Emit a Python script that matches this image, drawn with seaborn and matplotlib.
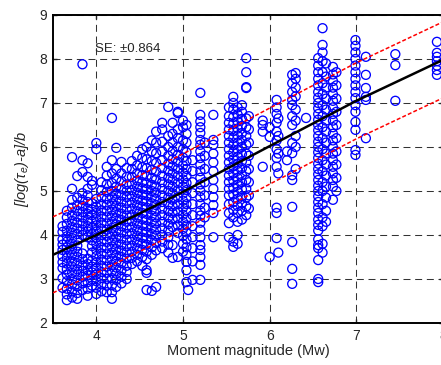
import pandas as pd
import matplotlib
matplotlib.use('Agg')
import matplotlib.pyplot as plt
import seaborn as sns

# Columnas de eventos: magnitud (Mw) y valores normalizados
mw_cols = [3.61, 3.66, 3.72, 3.78, 3.84, 3.90, 3.95, 4.00, 4.06, 4.12, 4.18, 4.23,
           4.29, 4.35, 4.41, 4.47, 4.53, 4.58, 4.64, 4.69, 4.76, 4.83, 4.88, 4.94,
           5.00, 5.04, 5.06, 5.11, 5.20, 5.25, 5.35, 5.53, 5.58, 5.63, 5.68, 5.73,
           5.76, 5.92, 6.00, 6.08, 6.10, 6.20, 6.26, 6.30, 6.42, 6.56, 6.61, 6.65,
           6.73, 6.77, 6.99, 7.11, 7.45, 7.93]

y_361 = [2.80, 3.02, 3.25, 3.38, 3.52, 3.66, 3.78, 3.90, 4.07, 4.20]
y_366 = [2.52, 2.65, 2.78, 2.95, 3.10, 3.22, 3.35, 3.48, 3.60, 3.72, 3.85, 3.97, 4.10, 4.25, 4.40, 4.55]
y_372 = [2.58, 2.72, 2.88, 3.00, 3.14, 3.28, 3.40, 3.55, 3.68, 3.80, 3.93, 4.05, 4.18, 4.32, 4.45, 4.62, 4.80, 5.05, 5.77]
y_378 = [2.55, 2.68, 2.83, 2.97, 3.10, 3.22, 3.36, 3.50, 3.62, 3.76, 3.88, 4.02, 4.15, 4.28, 4.42, 4.55, 4.68, 4.85, 5.34]
y_384 = [2.75, 2.90, 3.05, 3.18, 3.30, 3.45, 3.58, 4.00, 4.12, 4.26, 4.40, 4.52, 4.66, 4.80, 4.95, 5.43, 5.70, 7.88]
y_390 = [2.62, 2.78, 2.93, 3.08, 3.20, 3.34, 3.46, 3.95, 4.08, 4.20, 4.34, 4.48, 4.60, 4.75, 4.90, 5.05, 5.32, 5.63]
y_395 = [2.85, 3.00, 3.15, 3.28, 3.42, 3.60, 3.75, 3.88, 4.02, 4.16, 4.30, 4.45, 4.58, 4.72, 5.14, 5.23]
y_400 = [2.66, 2.80, 2.95, 3.10, 3.24, 3.38, 3.52, 3.66, 3.80, 3.94, 4.08, 4.22, 4.36, 4.50, 4.64, 4.82, 5.95, 6.09]
y_406 = [2.72, 2.88, 3.02, 3.16, 3.30, 3.44, 3.58, 3.72, 3.86, 4.00, 4.14, 4.28, 4.42, 4.56, 4.70, 4.86, 5.02, 5.20]
y_412 = [2.70, 2.85, 3.00, 3.14, 3.28, 3.42, 3.56, 3.70, 3.84, 3.98, 4.12, 4.26, 4.40, 4.54, 4.68, 4.82, 4.98, 5.15, 5.35, 5.55]
y_418 = [2.55, 2.70, 2.86, 3.02, 3.18, 3.32, 3.46, 3.60, 3.74, 3.88, 4.02, 4.16, 4.30, 4.44, 4.58, 4.72, 4.86, 5.00, 5.18, 5.40, 5.70, 6.66]
y_423 = [2.82, 2.98, 3.12, 3.26, 3.40, 3.54, 3.68, 3.82, 3.96, 4.10, 4.24, 4.38, 4.52, 4.66, 4.80, 4.94, 5.10, 5.28, 5.50, 5.98]
y_429 = [2.90, 3.05, 3.20, 3.36, 3.50, 3.64, 3.78, 3.92, 4.06, 4.20, 4.34, 4.48, 4.62, 4.76, 4.90, 5.05, 5.22, 5.40, 5.66]
y_435 = [3.00, 3.16, 3.30, 3.46, 3.60, 3.74, 3.88, 4.02, 4.16, 4.30, 4.44, 4.58, 4.72, 4.86, 5.00, 5.15, 5.32, 5.52]
y_441 = [3.34, 3.48, 3.62, 3.76, 3.90, 4.04, 4.18, 4.32, 4.46, 4.60, 4.74, 4.88, 5.02, 5.16, 5.32, 5.50, 5.68]
y_447 = [3.40, 3.55, 3.70, 3.84, 3.98, 4.12, 4.26, 4.40, 4.54, 4.68, 4.82, 4.96, 5.10, 5.24, 5.40, 5.58, 5.80]
y_453 = [3.30, 3.50, 3.66, 3.80, 3.94, 4.08, 4.22, 4.36, 4.50, 4.64, 4.78, 4.92, 5.06, 5.20, 5.36, 5.54, 5.75, 5.95]
y_458 = [2.75, 3.14, 3.20, 3.45, 3.62, 3.78, 3.92, 4.06, 4.20, 4.34, 4.48, 4.62, 4.76, 4.90, 5.04, 5.18, 5.34, 5.52, 5.72, 6.00]
y_464 = [2.73, 3.55, 3.72, 3.88, 4.02, 4.16, 4.30, 4.44, 4.58, 4.72, 4.86, 5.00, 5.14, 5.30, 5.48, 5.68, 5.90, 6.15]
y_469 = [2.82, 3.65, 3.82, 3.98, 4.12, 4.26, 4.40, 4.54, 4.68, 4.82, 4.96, 5.10, 5.26, 5.44, 5.64, 5.86, 6.10, 6.35]
y_476 = [3.70, 3.85, 4.00, 4.15, 4.30, 4.45, 4.60, 4.75, 4.90, 5.05, 5.20, 5.35, 5.52, 5.70, 5.90, 6.12, 6.40, 6.55]
y_483 = [3.60, 3.78, 3.95, 4.10, 4.25, 4.40, 4.55, 4.70, 4.85, 5.00, 5.15, 5.30, 5.46, 5.62, 5.80, 6.00, 6.25, 6.91]
y_488 = [3.48, 3.77, 4.18, 4.35, 4.50, 4.65, 4.80, 4.95, 5.10, 5.25, 5.40, 5.56, 5.72, 5.90, 6.10, 6.30, 6.55]
y_494 = [3.50, 4.05, 4.22, 4.38, 4.54, 4.70, 4.86, 5.02, 5.18, 5.34, 5.50, 5.66, 5.82, 6.00, 6.20, 6.40, 6.77, 6.80]
y_500 = [3.62, 3.80, 3.98, 4.14, 4.30, 4.46, 4.62, 4.78, 4.94, 5.10, 5.26, 5.42, 5.58, 5.76, 5.95, 6.15, 6.45, 6.60]
y_504 = [2.93, 3.20, 3.39, 3.55, 3.72, 3.90, 4.06, 4.22, 4.38, 4.54, 4.70, 4.86, 5.02, 5.18, 5.34, 5.50, 5.68, 5.88, 6.10, 6.30, 6.50]
y_506 = [2.75]
y_511 = [2.98, 3.40, 3.70, 3.95, 4.20, 4.45, 4.70, 4.95, 5.20, 5.45, 5.70]
y_520 = [2.98, 3.32, 3.50, 3.66, 3.77, 3.95, 4.12, 4.28, 4.44, 4.55, 4.70, 4.86, 5.00, 5.15, 5.30, 5.45,
         5.60, 5.75, 5.90, 6.05, 6.16, 6.32, 6.45, 6.58, 6.73, 7.23]
y_525 = [4.40, 4.62, 4.90, 5.20, 5.50, 5.80, 6.10]
y_535 = [3.95, 4.50, 4.68, 4.86, 5.05, 5.25, 5.45, 5.65, 5.85, 6.05, 6.16, 6.73]
y_553 = [3.95, 4.27, 4.50, 4.70, 4.90, 5.05, 5.20, 5.35, 5.50, 5.65, 5.80, 5.95, 6.10, 6.25, 6.40, 6.55, 6.70, 6.90]
y_558 = [3.73, 3.85, 4.40, 4.57, 4.75, 4.92, 5.08, 5.24, 5.40, 5.56, 5.72, 5.88, 6.04, 6.20, 6.36, 6.52,
         6.68, 6.85, 7.00, 7.14]
y_563 = [3.80, 4.00, 4.30, 4.50, 4.66, 4.82, 4.98, 5.14, 5.30, 5.46, 5.62, 5.78, 5.94, 6.10, 6.26, 6.42, 6.58, 6.74, 6.90]
y_568 = [4.35, 4.55, 4.72, 4.88, 5.04, 5.20, 5.36, 5.52, 5.68, 5.84, 6.00, 6.16, 6.32, 6.48, 6.64, 6.80, 6.95]
y_573 = [4.45, 4.65, 4.85, 5.05, 5.25, 5.45, 5.65, 5.85, 6.05, 6.25, 6.45, 6.65, 7.34, 7.36, 7.70, 8.02]
y_576 = [4.60, 4.90, 5.20, 5.50, 5.80, 6.10, 6.40, 6.70]
y_592 = [5.55, 6.35, 6.50, 6.60]
y_600 = [3.50, 6.23, 6.45]
y_608 = [3.93, 4.50, 4.62, 5.55, 5.75, 5.95, 6.15, 6.35, 6.55, 6.75, 6.90, 7.07]
y_610 = [3.60, 5.40, 5.85, 6.25, 6.65]
y_620 = [5.70, 5.90]
y_626 = [2.89, 3.23, 3.84, 4.64, 5.25, 5.36, 5.86, 6.09, 6.50, 6.70, 6.95, 7.07, 7.25, 7.45, 7.64]
y_630 = [5.50, 6.00, 6.25, 6.60, 6.85, 7.15, 7.35, 7.55, 7.68]
y_642 = [6.66]
y_656 = [2.93, 3.00, 3.43, 3.70, 3.77, 3.90, 4.10, 4.23, 4.35, 4.50, 4.62, 4.75, 4.88, 5.00, 5.12, 5.25,
         5.38, 5.50, 5.62, 5.75, 5.88, 6.00, 6.12, 6.25, 6.38, 6.50, 6.62, 6.75, 6.88, 7.00, 7.12, 7.25,
         7.40, 7.55, 7.70, 7.85, 8.02]
y_661 = [3.60, 3.80, 4.20, 4.40, 4.70, 5.00, 5.20, 5.45, 5.70, 5.95, 6.20, 6.45, 6.70, 6.95, 7.20, 7.45,
         7.70, 7.95, 8.15, 8.32, 8.70]
y_665 = [4.30, 4.55, 4.85, 5.10, 5.35, 5.60, 5.85, 6.10, 6.35, 6.60, 6.85, 7.10, 7.35, 7.60, 7.90]
y_673 = [4.80, 5.10, 5.25, 5.40, 5.55, 5.70, 5.85, 6.00, 6.15, 6.30, 6.45, 6.60, 6.75, 6.90, 7.05, 7.20,
         7.35, 7.50, 7.65, 7.82]
y_677 = [5.00, 5.30, 5.60, 5.90, 6.20, 6.50, 6.80, 7.10, 7.40, 7.70]
y_699 = [5.82, 5.93, 6.39, 6.57, 6.80, 6.95, 7.11, 7.25, 7.40, 7.55, 7.70, 7.85, 8.00, 8.15, 8.30, 8.43]
y_711 = [6.20, 7.07, 7.14, 7.34, 7.64, 8.05]
y_745 = [7.05, 7.86, 8.11]
y_793 = [7.64, 7.75, 7.85, 7.95, 8.05, 8.14, 8.39]

y_cols = [y_361, y_366, y_372, y_378, y_384, y_390, y_395, y_400, y_406, y_412, y_418, y_423,
          y_429, y_435, y_441, y_447, y_453, y_458, y_464, y_469, y_476, y_483, y_488, y_494,
          y_500, y_504, y_506, y_511, y_520, y_525, y_535, y_553, y_558, y_563, y_568, y_573,
          y_576, y_592, y_600, y_608, y_610, y_620, y_626, y_630, y_642, y_656, y_661, y_665,
          y_673, y_677, y_699, y_711, y_745, y_793]

# Ajuste y error estandar
fit_mw = [3.5, 4.0, 5.0, 6.0, 7.0, 8.0]
fit_y = [3.55, 4.00, 4.98, 6.02, 7.05, 7.98]
se = 0.864

filas = []
for m, ys in zip(mw_cols, y_cols):
    for v in ys:
        filas.append((m, v))
datos = pd.DataFrame(filas, columns=['Mw', 'tau'])

ajuste = pd.DataFrame({'Mw': fit_mw, 'fit': fit_y})
ajuste['sup'] = ajuste['fit'] + se
ajuste['inf'] = ajuste['fit'] - se

sns.set_style('ticks')
plt.rcParams['font.family'] = ['Liberation Sans', 'DejaVu Sans']
plt.rcParams['mathtext.fontset'] = 'custom'
plt.rcParams['mathtext.it'] = 'Liberation Sans:italic'
plt.rcParams['mathtext.rm'] = 'Liberation Sans'
plt.rcParams['mathtext.default'] = 'it'

fig = plt.figure(figsize=(4.41, 3.65), dpi=100)
ax = fig.add_axes([53 / 441, 42 / 365, 390 / 441, 308 / 365])

ax.grid(True, color='#333333', lw=0.75, linestyle=(0, (6.7, 4.5)), zorder=0)
ax.set_axisbelow(True)

sns.scatterplot(data=datos, x='Mw', y='tau', ax=ax, marker='o', s=42,
                facecolors='none', edgecolor='#0000ff', linewidth=0.95, zorder=2)
sns.lineplot(data=ajuste, x='Mw', y='fit', ax=ax, color='black', lw=1.8, zorder=4)
sns.lineplot(data=ajuste, x='Mw', y='sup', ax=ax, color='red', lw=1.1,
             linestyle=(0, (2.6, 1.4)), zorder=3)
sns.lineplot(data=ajuste, x='Mw', y='inf', ax=ax, color='red', lw=1.1,
             linestyle=(0, (2.6, 1.4)), zorder=3)

ax.set_xlim(3.5, 8)
ax.set_ylim(2, 9)
ax.set_xticks([4, 5, 6, 7, 8])
ax.set_yticks([2, 3, 4, 5, 6, 7, 8, 9])
ax.tick_params(direction='in', length=3, width=1, top=True, right=True, labelsize=10, pad=4)
for lado in ax.spines.values():
    lado.set_linewidth(1.4)
    lado.set_color('black')

ax.text(3.99, 8.08, 'SE: \u00b10.864', fontsize=9.5, va='bottom', ha='left')
ax.set_xlabel('Moment magnitude (Mw)', fontsize=10.5, labelpad=1)
ax.set_ylabel('[log(\u03c4$_e$)-a]/b', fontsize=10.5, style='italic', labelpad=6)

fig.savefig('out.png', dpi=100)
